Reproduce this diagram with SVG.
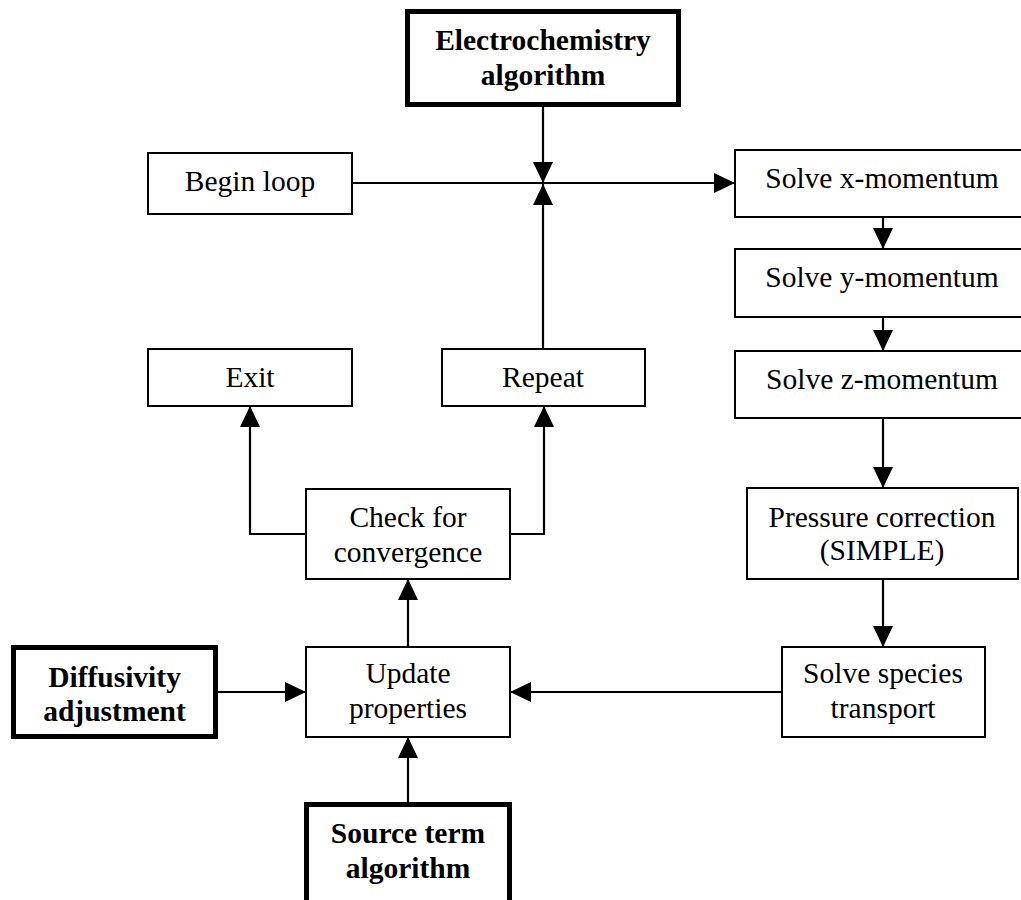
<svg xmlns="http://www.w3.org/2000/svg" width="1021" height="900" viewBox="0 0 1021 900">
<defs>
<marker id="arr" markerUnits="userSpaceOnUse" markerWidth="21" markerHeight="20" refX="21" refY="10" orient="auto">
<path d="M0,0 L21,10 L0,20 z" fill="#000"/>
</marker>
<style>
.box{fill:#fff;stroke:#000;stroke-width:2}
.tbox{fill:#fff;stroke:#000;stroke-width:5}
.t{font-family:"Liberation Serif","Times New Roman",serif;font-size:29.5px;text-anchor:middle;fill:#000}
.b{font-weight:bold}
.c{fill:none;stroke:#000;stroke-width:2.2}
</style>
</defs>
<rect width="1021" height="900" fill="#fff"/>
<g id="connectors">
<line class="c" x1="543" y1="107" x2="543" y2="183" marker-end="url(#arr)"/>
<line class="c" x1="352" y1="183" x2="735" y2="183" marker-end="url(#arr)"/>
<line class="c" x1="543" y1="349" x2="543" y2="184" marker-end="url(#arr)"/>
<line class="c" x1="883" y1="217" x2="883" y2="249" marker-end="url(#arr)"/>
<line class="c" x1="883" y1="317" x2="883" y2="351" marker-end="url(#arr)"/>
<line class="c" x1="883" y1="418" x2="883" y2="488" marker-end="url(#arr)"/>
<line class="c" x1="883" y1="579" x2="883" y2="647" marker-end="url(#arr)"/>
<line class="c" x1="782" y1="692" x2="510" y2="692" marker-end="url(#arr)"/>
<line class="c" x1="218" y1="692" x2="306" y2="692" marker-end="url(#arr)"/>
<line class="c" x1="408" y1="802" x2="408" y2="737" marker-end="url(#arr)"/>
<line class="c" x1="408" y1="647" x2="408" y2="579" marker-end="url(#arr)"/>
<polyline class="c" points="306,534 250,534 250,406" marker-end="url(#arr)"/>
<polyline class="c" points="510,534 544,534 544,406" marker-end="url(#arr)"/>
</g>
<g id="electrochemistry">
<rect class="tbox" x="407.5" y="11.5" width="271" height="93"/>
<text class="t b" x="543" y="50">Electrochemistry</text>
<text class="t b" x="543" y="85">algorithm</text>
</g>
<g id="begin-loop">
<rect class="box" x="148" y="153" width="204" height="61"/>
<text class="t" x="250" y="191">Begin loop</text>
</g>
<g id="solve-x">
<rect class="box" x="735" y="150" width="293" height="67"/>
<text class="t" x="882" y="188">Solve x-momentum</text>
</g>
<g id="solve-y">
<rect class="box" x="735" y="249" width="293" height="68"/>
<text class="t" x="882" y="287">Solve y-momentum</text>
</g>
<g id="solve-z">
<rect class="box" x="735" y="351" width="293" height="67"/>
<text class="t" x="882" y="389">Solve z-momentum</text>
</g>
<g id="exit">
<rect class="box" x="148" y="349" width="204" height="57"/>
<text class="t" x="250" y="387">Exit</text>
</g>
<g id="repeat">
<rect class="box" x="442" y="349" width="203" height="57"/>
<text class="t" x="543" y="387">Repeat</text>
</g>
<g id="check">
<rect class="box" x="306" y="489" width="204" height="90"/>
<text class="t" x="408" y="527">Check for</text>
<text class="t" x="408" y="562">convergence</text>
</g>
<g id="pressure">
<rect class="box" x="747" y="488" width="271" height="91"/>
<text class="t" x="882" y="527">Pressure correction</text>
<text class="t" x="882" y="560">(SIMPLE)</text>
</g>
<g id="species">
<rect class="box" x="782" y="647" width="203" height="90"/>
<text class="t" x="883" y="683">Solve species</text>
<text class="t" x="883" y="718">transport</text>
</g>
<g id="update">
<rect class="box" x="306" y="647" width="204" height="90"/>
<text class="t" x="408" y="683">Update</text>
<text class="t" x="408" y="718">properties</text>
</g>
<g id="diffusivity">
<rect class="tbox" x="13.5" y="647.5" width="202" height="89"/>
<text class="t b" x="114.5" y="687">Diffusivity</text>
<text class="t b" x="114.5" y="721">adjustment</text>
</g>
<g id="source">
<rect class="tbox" x="306.5" y="804.5" width="203" height="110"/>
<text class="t b" x="408" y="843">Source term</text>
<text class="t b" x="408" y="878">algorithm</text>
</g>
</svg>
